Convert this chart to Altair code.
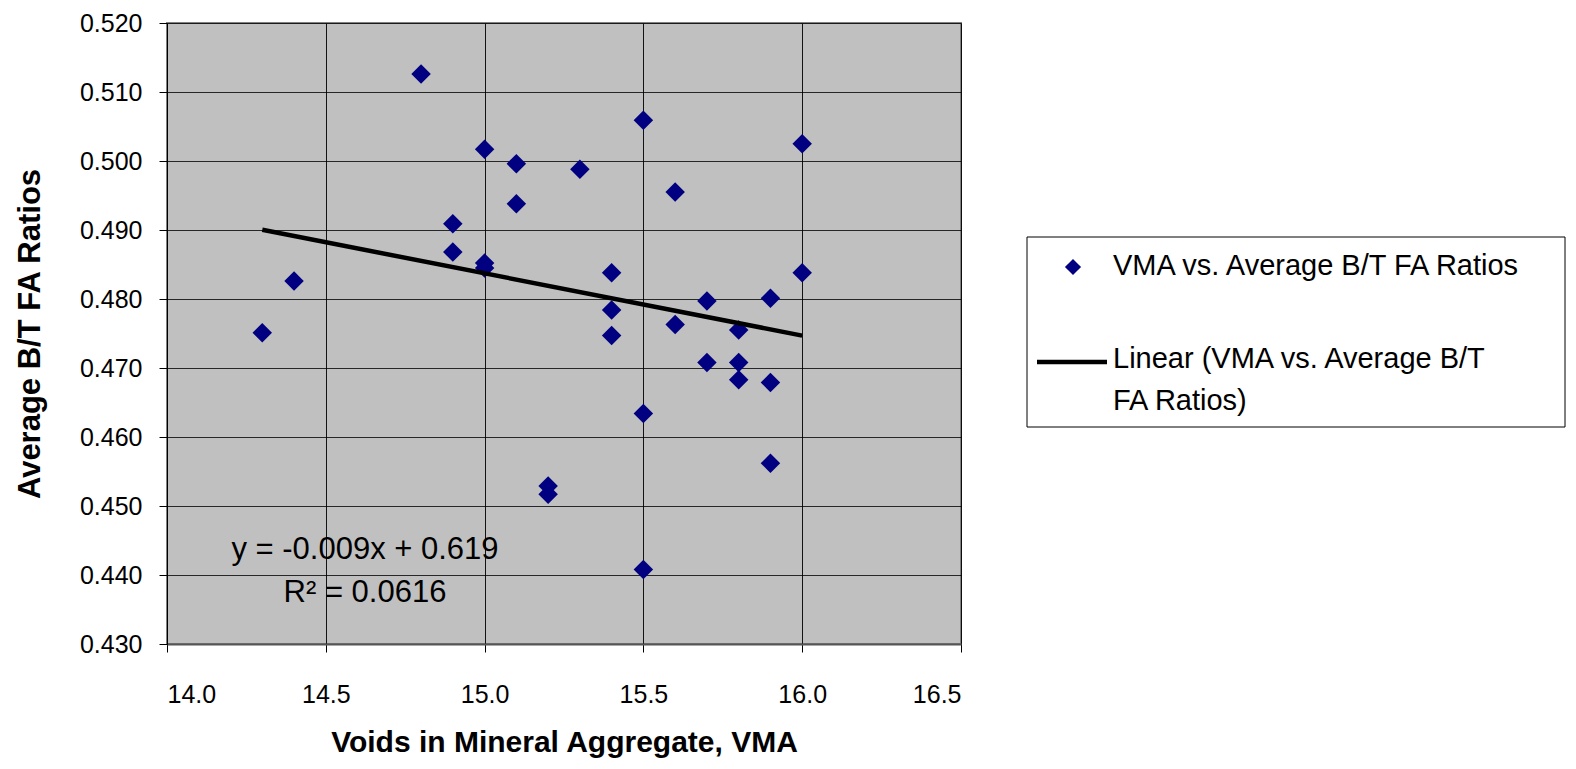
import altair as alt
import pandas as pd

# Data
vma = [14.3, 14.4, 14.8, 14.9, 14.9, 15.0, 15.0, 15.0, 15.1, 15.1, 15.2, 15.2, 15.3,
       15.4, 15.4, 15.4, 15.5, 15.5, 15.5, 15.6, 15.6, 15.7, 15.7, 15.8, 15.8, 15.8,
       15.9, 15.9, 15.9, 16.0, 16.0]
ratio = [0.4751, 0.4826, 0.5126, 0.4909, 0.4868, 0.5017, 0.4852, 0.4845, 0.4996, 0.4938,
         0.4529, 0.4517, 0.4988, 0.4838, 0.4784, 0.4747, 0.5059, 0.4634, 0.4408, 0.4955,
         0.4763, 0.4797, 0.4708, 0.4755, 0.4708, 0.4683, 0.4801, 0.4679, 0.4562, 0.5025,
         0.4838]
x_ticks = [14.0, 14.5, 15.0, 15.5, 16.0, 16.5]
y_ticks = [0.430, 0.440, 0.450, 0.460, 0.470, 0.480, 0.490, 0.500, 0.510, 0.520]
series_label = "VMA vs. Average B/T FA Ratios"
trend_label = "Linear (VMA vs. Average B/T\nFA Ratios)"
eq_text = "y = -0.009x + 0.619"
r2_text = "R\u00b2 = 0.0616"

df = pd.DataFrame({"vma": vma, "ratio": ratio})
one = pd.DataFrame({"k": [0]})

FONT = "Liberation Sans"
W, H = 794, 621

xscale = alt.Scale(domain=[14.0, 16.5], nice=False, zero=False)
yscale = alt.Scale(domain=[0.430, 0.520], nice=False, zero=False)

xaxis = alt.Axis(values=x_ticks, format=".1f", title="Voids in Mineral Aggregate, VMA",
                 grid=True, gridColor="#000000", gridWidth=1, gridOpacity=0.9,
                 tickSize=8, tickColor="#000000", labelPadding=30,
                 labelFontSize=25, labelColor="#000000", labelFont=FONT,
                 titleFontSize=30, titleFontWeight="bold", titleFont=FONT, titleColor="#000000",
                 titleY=98, titleBaseline="middle",
                 domainColor="#555555", domainWidth=2)
yaxis = alt.Axis(values=y_ticks, format=".3f", title="Average B/T FA Ratios",
                 grid=True, gridColor="#000000", gridWidth=1, gridOpacity=0.8,
                 tickSize=8, tickColor="#000000", labelPadding=17,
                 labelFontSize=25, labelColor="#000000", labelFont=FONT,
                 titleFontSize=31, titleFontWeight="bold", titleFont=FONT, titleColor="#000000",
                 titleX=-137, titleY=H / 2, titleAngle=-90, titleBaseline="middle",
                 domainColor="#000000", domainWidth=1)

points = alt.Chart(df).mark_point(shape="diamond", filled=True, color="#000080",
                                  size=380, opacity=1).encode(
    x=alt.X("vma:Q", scale=xscale, axis=xaxis),
    y=alt.Y("ratio:Q", scale=yscale, axis=yaxis),
)

trend = alt.Chart(df).transform_regression("vma", "ratio", method="linear").mark_line(
    color="#000000", strokeWidth=4.5).encode(
    x=alt.X("vma:Q", scale=xscale),
    y=alt.Y("ratio:Q", scale=yscale),
)

eq = alt.Chart(one).mark_text(fontSize=31, font=FONT, color="#000000", align="center",
                              baseline="middle").encode(
    x=alt.value(198), y=alt.value(527), text=alt.value(eq_text))
r2 = alt.Chart(one).mark_text(fontSize=31, font=FONT, color="#000000", align="center",
                              baseline="middle").encode(
    x=alt.value(198), y=alt.value(570), text=alt.value(r2_text))

# Legend
leg_box = alt.Chart(one).mark_rect(fill="#ffffff", stroke="#000000", strokeWidth=1).encode(
    x=alt.value(860), x2=alt.value(1398), y=alt.value(214), y2=alt.value(404))
leg_pt = alt.Chart(one).mark_point(shape="diamond", filled=True, color="#000080",
                                   size=260, opacity=1).encode(
    x=alt.value(906), y=alt.value(244))
leg_line = alt.Chart(one).mark_rule(color="#000000", strokeWidth=4.5).encode(
    x=alt.value(870), x2=alt.value(940), y=alt.value(339))
leg_t1 = alt.Chart(one).mark_text(fontSize=29, font=FONT, color="#000000", align="left",
                                  baseline="middle").encode(
    x=alt.value(946), y=alt.value(243), text=alt.value(series_label))
leg_t2 = alt.Chart(one).mark_text(fontSize=29, font=FONT, color="#000000", align="left",
                                  baseline="middle", lineBreak="\n", lineHeight=42).encode(
    x=alt.value(946), y=alt.value(336), text=alt.value(trend_label))

chart = alt.layer(points, trend, eq, r2, leg_box, leg_pt, leg_line, leg_t1, leg_t2).properties(
    width=W, height=H,
    autosize=alt.AutoSizeParams(type="none"),
    padding={"left": 159, "top": 15, "right": 605, "bottom": 115},
).configure(
    font=FONT, background="#ffffff"
).configure_view(
    fill="#C0C0C0", stroke="#808080", strokeWidth=2
)

chart.save("out.html", embed_options={"renderer": "svg", "actions": False})
